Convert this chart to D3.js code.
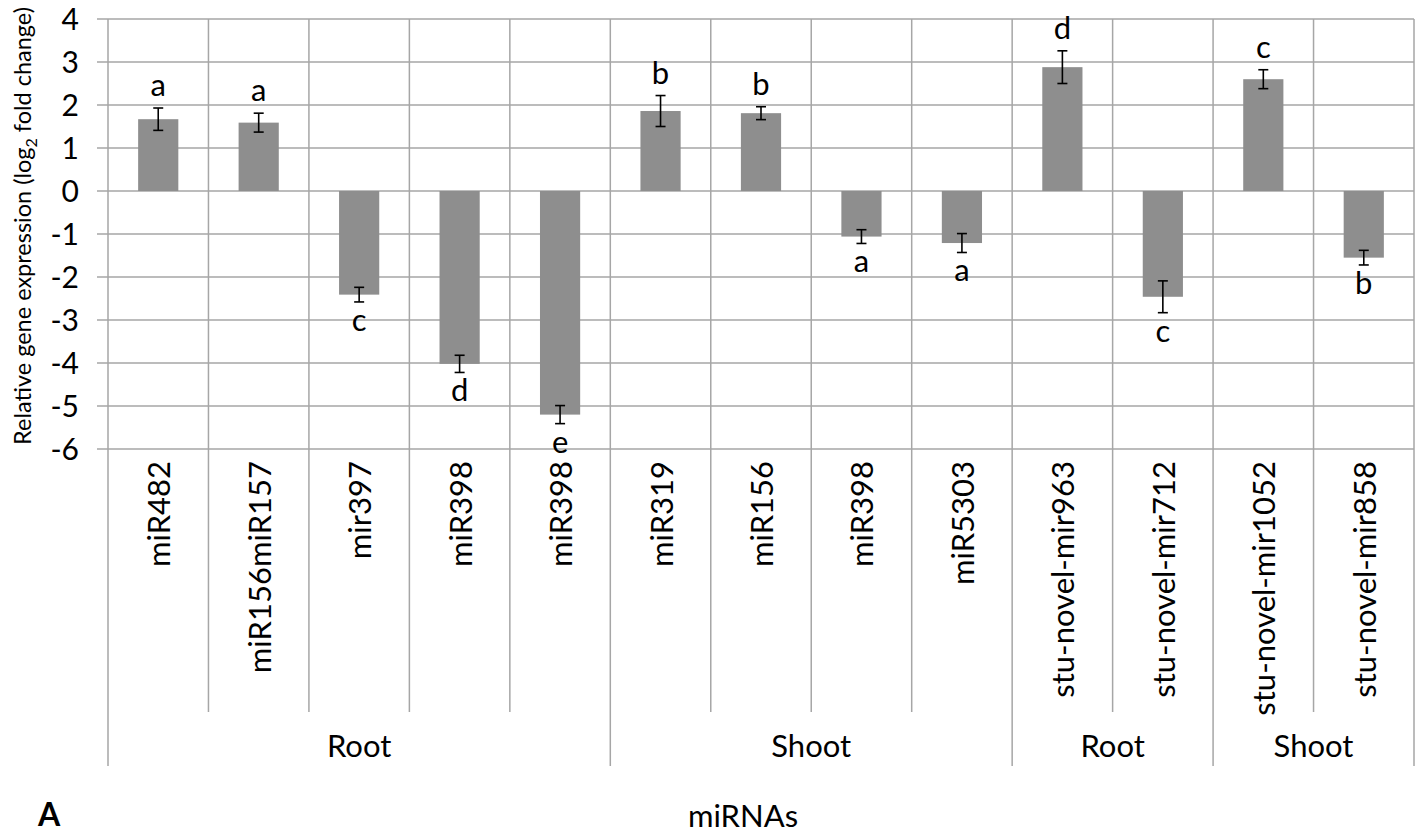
<!DOCTYPE html>
<html>
<head>
<meta charset="utf-8">
<script src="https://cdn.jsdelivr.net/npm/d3@7"></script>
<style>
  body { margin: 0; background: #fff; }
  svg text { font-family: Lato, "Open Sans", sans-serif; fill: #000; }
</style>
</head>
<body>
<svg id="chart" width="1421" height="833"></svg>
<script>
const categories = ["miR482", "miR156miR157", "mir397", "miR398", "miR398", "miR319", "miR156",
  "miR398", "miR5303", "stu-novel-mir963", "stu-novel-mir712", "stu-novel-mir1052", "stu-novel-mir858"];
const values = [1.67, 1.59, -2.41, -4.02, -5.2, 1.86, 1.81, -1.06, -1.21, 2.88, -2.46, 2.6, -1.55];
const errors = [0.26, 0.22, 0.17, 0.2, 0.21, 0.36, 0.15, 0.16, 0.22, 0.38, 0.37, 0.22, 0.17];
const letters = ["a", "a", "c", "d", "e", "b", "b", "a", "a", "d", "c", "c", "b"];
const groupNames = ["Root", "Shoot", "Root", "Shoot"];
const groupSizes = [5, 4, 2, 2];
const yTicks = [4, 3, 2, 1, 0, -1, -2, -3, -4, -5, -6];

const gridColor = "#a6a6a6", barColor = "#8e8e8e";
const plotLeft = 108, plotRight = 1414, plotTop = 19, plotBottom = 449;
const innerEnd = 712, groupEnd = 766;
const fs = "31px";

const svg = d3.select("#chart");

const x = d3.scaleBand()
  .domain(d3.range(categories.length))
  .range([plotLeft, plotRight])
  .padding(0);

const y = d3.scaleLinear()
  .domain([-6, 4])
  .range([plotBottom, plotTop]);

const data = categories.map((c, i) => ({ i, name: c, value: values[i], err: errors[i], letter: letters[i] }));

// horizontal grid + tick marks
svg.append("g")
  .selectAll("line")
  .data(yTicks)
  .join("line")
  .attr("x1", plotLeft - 11)
  .attr("x2", plotRight)
  .attr("y1", d => y(d))
  .attr("y2", d => y(d))
  .attr("stroke", gridColor)
  .attr("stroke-width", 1.5);

// y tick labels
svg.append("g")
  .selectAll("text")
  .data(yTicks)
  .join("text")
  .attr("x", 79)
  .attr("y", d => y(d))
  .attr("dy", "0.36em")
  .attr("text-anchor", "end")
  .style("font-size", "30px")
  .text(d => d);

// vertical category lines
const bounds = d3.range(categories.length + 1).map(i => plotLeft + i * x.step());
const groupStarts = [0];
groupSizes.forEach(s => groupStarts.push(groupStarts[groupStarts.length - 1] + s));

svg.append("g")
  .selectAll("line")
  .data(bounds)
  .join("line")
  .attr("x1", d => d)
  .attr("x2", d => d)
  .attr("y1", plotTop)
  .attr("y2", (d, i) => groupStarts.includes(i) ? groupEnd : innerEnd)
  .attr("stroke", gridColor)
  .attr("stroke-width", 1.5);

// bars
const barW = x.bandwidth() * 0.4;
svg.append("g")
  .selectAll("rect")
  .data(data)
  .join("rect")
  .attr("x", d => x(d.i) + (x.bandwidth() - barW) / 2)
  .attr("y", d => y(Math.max(0, d.value)))
  .attr("width", barW)
  .attr("height", d => Math.abs(y(d.value) - y(0)))
  .attr("fill", barColor);

// error bars
const eb = svg.append("g").attr("stroke", "#000").attr("stroke-width", 1.6);
data.forEach(d => {
  const cx = x(d.i) + x.bandwidth() / 2;
  const y1 = y(d.value + d.err), y2 = y(d.value - d.err);
  eb.append("line").attr("x1", cx).attr("x2", cx).attr("y1", y1).attr("y2", y2);
  eb.append("line").attr("x1", cx - 5).attr("x2", cx + 5).attr("y1", y1).attr("y2", y1);
  eb.append("line").attr("x1", cx - 5).attr("x2", cx + 5).attr("y1", y2).attr("y2", y2);
});

// significance letters
svg.append("g")
  .selectAll("text")
  .data(data)
  .join("text")
  .attr("x", d => x(d.i) + x.bandwidth() / 2)
  .attr("y", d => d.value >= 0 ? y(d.value + d.err) - 12 : y(d.value - d.err) + 29)
  .attr("text-anchor", "middle")
  .style("font-size", fs)
  .text(d => d.letter);

// category labels
svg.append("g")
  .selectAll("text")
  .data(data)
  .join("text")
  .attr("transform", d => `translate(${x(d.i) + x.bandwidth() / 2 + 12}, 461) rotate(-90)`)
  .attr("text-anchor", "end")
  .style("font-size", fs)
  .text(d => d.name);

// group labels
svg.append("g")
  .selectAll("text")
  .data(groupNames)
  .join("text")
  .attr("x", (d, i) => (bounds[groupStarts[i]] + bounds[groupStarts[i + 1]]) / 2)
  .attr("y", 757)
  .attr("text-anchor", "middle")
  .style("font-size", fs)
  .text(d => d);

// axis titles
svg.append("text")
  .attr("x", 743)
  .attr("y", 827)
  .attr("text-anchor", "middle")
  .style("font-size", fs)
  .text("miRNAs");

svg.append("text")
  .attr("x", 38)
  .attr("y", 826)
  .style("font-size", "32px")
  .style("font-weight", "bold")
  .text("A");

const yTitle = svg.append("text")
  .attr("transform", "translate(31, 226) rotate(-90)")
  .attr("text-anchor", "middle")
  .style("font-size", "23.5px");
yTitle.append("tspan").text("Relative gene expression (log");
yTitle.append("tspan").attr("dy", 6).style("font-size", "16px").text("2");
yTitle.append("tspan").attr("dy", -6).text(" fold change)");
</script>
</body>
</html>
